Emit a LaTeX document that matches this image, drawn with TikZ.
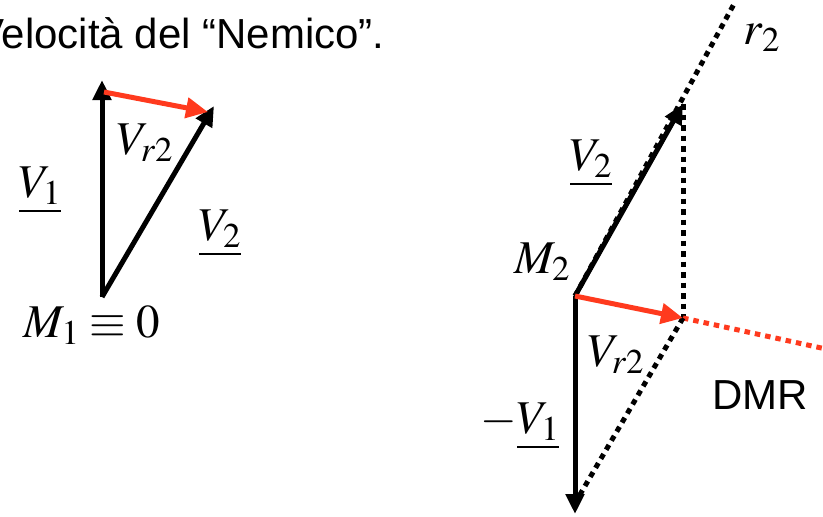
\documentclass[tikz,border=0pt]{standalone}
\usepackage{mathptmx}
\usepackage{fontspec}
\setsansfont{Liberation Sans}
\usetikzlibrary{arrows.meta}
\definecolor{vecred}{HTML}{FF3A1E}
\tikzset{vec/.style={line width=5pt,-{Triangle[length=20pt,width=18pt]}},
  relvec/.style={vec,draw=vecred,-{Triangle[length=22pt,width=20pt,fill=vecred]}},
  guide/.style={line width=5pt,dash pattern=on 5.5pt off 5pt},
  lbl/.style={inner sep=0pt,font=\fontsize{47}{54}\selectfont},
  words/.style={inner sep=0pt,font=\sffamily\fontsize{42}{50}\selectfont}}

\begin{document}
\begin{tikzpicture}[x=1pt,y=-1pt]
\useasboundingbox (0,0) rectangle (823,517);
\clip (0,0) rectangle (823,517);
% title line
\node[words,anchor=base west] (title) at (-24,48) {Velocità del “Nemico”.};
% left triangle
\coordinate (m1) at (102,297);
\coordinate (v1) at (102,80);
\coordinate (v2) at (214,106);
\coordinate (r1) at (104,92);
\coordinate (r1e) at (208,112);
\draw[vec] (m1)--(v1);
\draw[vec] (m1)--(v2);
\draw[relvec] (r1)--(r1e);
\node[lbl] (lv1) at (40,190) {$\underline{V_1}$};
\node[lbl] (lvr) at (145,143) {$V_{r2}$};
\node[lbl] (lv2) at (220,233) {$\underline{V_2}$};
\node[lbl] (lm1) at (92,325) {$M_1\equiv 0$};
% right construction
\coordinate (m2) at (575,296);
\coordinate (w1) at (575,514);
\coordinate (w2) at (683,104);
\coordinate (rt) at (734,4);
\coordinate (p) at (683,318);
\coordinate (de) at (826,349);
\coordinate (q) at (578,498);
\draw[guide] (m2)--(rt);
\draw[guide] (w2)--(p);
\draw[guide,draw=vecred] (p)--(de);
\draw[guide] (p)--(q);
\draw[vec] (m2)--(w1);
\draw[vec] (m2)--(w2);
\draw[relvec] (m2)--(p);
\node[lbl] (lr2) at (762,38) {$r_2$};
\node[lbl] (lw2) at (591,163) {$\underline{V_2}$};
\node[lbl] (lm2) at (542,262) {$M_2$};
\node[lbl] (lwr) at (616,355) {$V_{r2}$};
\node[words,font=\sffamily\fontsize{42}{50}\selectfont] (dmr) at (760,395) {DMR};
\node[lbl] (lw1) at (520,426) {$-\underline{V_1}$};
\end{tikzpicture}
\end{document}
